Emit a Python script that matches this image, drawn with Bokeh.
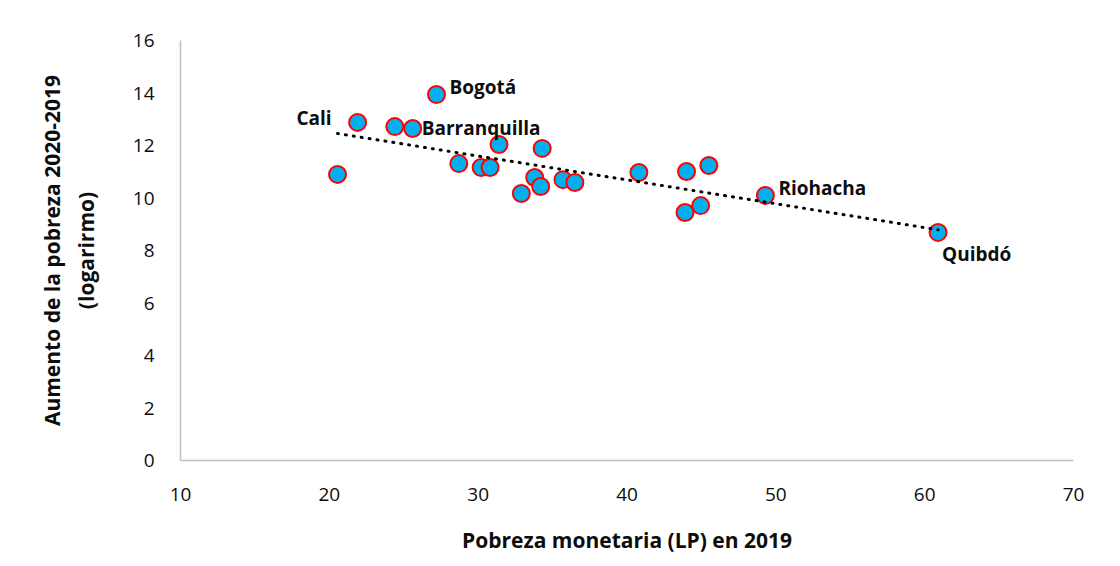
import numpy as np
from bokeh.plotting import figure
from bokeh.models import Range1d, FixedTicker, ColumnDataSource
from bokeh.core.properties import value
from bokeh.embed import file_html
from bokeh.resources import INLINE

# ---- data ----
pobreza_2019 = [27.2, 21.9, 24.4, 25.6, 20.55, 28.7, 30.2, 30.8, 31.4, 32.9, 33.8,
                34.2, 34.3, 35.7, 36.5, 40.8, 44.0, 43.9, 44.95, 45.5, 49.3, 60.9]
aumento_log = [13.94, 12.88, 12.72, 12.65, 10.9, 11.31, 11.16, 11.16, 12.04, 10.17, 10.78,
               10.44, 11.89, 10.70, 10.59, 10.97, 11.01, 9.45, 9.71, 11.24, 10.10, 8.69]
city_names = ["Bogotá", "Cali", "Barranquilla", "Riohacha", "Quibdó"]
city_index = [0, 1, 3, 20, 21]
x_ticks = [10, 20, 30, 40, 50, 60, 70]
y_ticks = [0, 2, 4, 6, 8, 10, 12, 14, 16]
x_title = "Pobreza monetaria (LP) en 2019"
y_title = "Aumento de la pobreza 2020-2019\n(logarirmo)"

# ---- label styling (screen offsets) ----
lbl_align = ["left", "right", "left", "left", "left"]
lbl_dx = [13, -26, 9, 13, 4]
lbl_dy = [-8, -4, 0, -7, 22]

FONT = "Open Sans"
TXT = "#0d0d0d"

p = figure(width=1120, height=566, output_backend="svg", toolbar_location=None,
           x_range=Range1d(10, 70), y_range=Range1d(0, 16),
           min_border_left=180, min_border_right=47, min_border_top=40,
           min_border_bottom=106)
p.background_fill_color = "white"
p.border_fill_color = "white"
p.outline_line_color = None
p.grid.visible = False

for ax in (p.xaxis[0], p.yaxis[0]):
    ax.axis_line_color = "#bfbfbf"
    ax.axis_line_width = 1.5
    ax.major_tick_line_color = None
    ax.minor_tick_line_color = None
    ax.major_tick_out = 0
    ax.major_tick_in = 0
    ax.minor_tick_out = 0
    ax.major_label_text_font = FONT
    ax.major_label_text_font_size = "19px"
    ax.major_label_text_color = TXT
    ax.axis_label_text_font = FONT
    ax.axis_label_text_font_style = "bold"
    ax.axis_label_text_font_size = "21px"
    ax.axis_label_text_color = TXT
p.xaxis.ticker = FixedTicker(ticks=x_ticks)
p.yaxis.ticker = FixedTicker(ticks=y_ticks)
p.xaxis.major_label_standoff = 27
p.yaxis.major_label_standoff = 26
p.xaxis.axis_label = x_title
p.yaxis.axis_label = y_title
p.xaxis.axis_label_standoff = 22
p.yaxis.axis_label_standoff = 30

src = ColumnDataSource(dict(x=pobreza_2019, y=aumento_log))
p.scatter("x", "y", source=src, size=17, fill_color="#00b0f0",
          line_color="#ff0000", line_width=2)

# linear trend line (least squares), drawn over the points
slope, intercept = np.polyfit(pobreza_2019, aumento_log, 1)
tx = [min(pobreza_2019), max(pobreza_2019)]
ty = [slope * v + intercept for v in tx]
p.line(tx, ty, line_color="black", line_width=3, line_dash="1 7", line_cap="round")

lsrc = ColumnDataSource(dict(
    x=[pobreza_2019[i] for i in city_index],
    y=[aumento_log[i] for i in city_index],
    t=city_names, a=lbl_align, dx=lbl_dx, dy=lbl_dy))
p.text("x", "y", text="t", source=lsrc, text_align="a", text_baseline="middle",
       x_offset="dx", y_offset="dy", text_font=value(FONT), text_font_style="bold",
       text_font_size="19px", text_color=TXT)

open("out.html", "w").write(file_html(p, INLINE))
